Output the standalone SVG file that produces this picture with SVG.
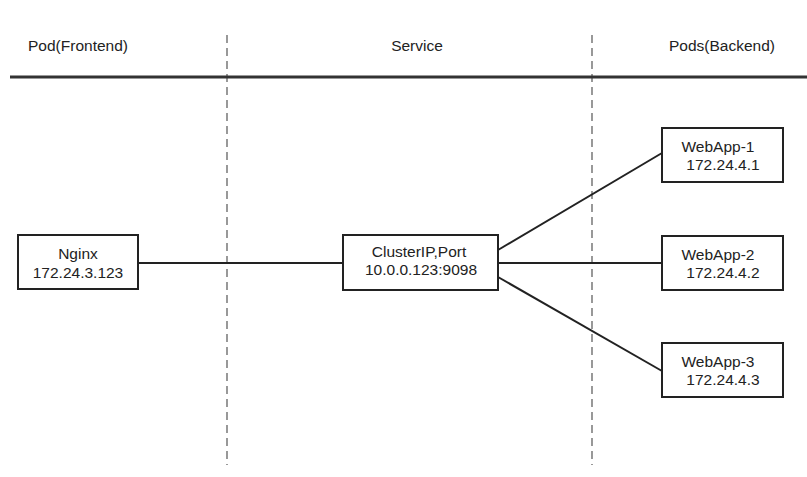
<svg xmlns="http://www.w3.org/2000/svg" width="807" height="477" viewBox="0 0 807 477">
<style>
.bg{fill:#ffffff}
.box{fill:#ffffff;stroke:#222222;stroke-width:2}
.t{font-family:"Liberation Sans",Arial,sans-serif;font-size:15.5px;fill:#222222;text-anchor:middle}
.h{font-family:"Liberation Sans",Arial,sans-serif;font-size:15.5px;fill:#222222;text-anchor:middle}
.dash{stroke:#555555;stroke-width:1.2;stroke-dasharray:8,5;fill:none}
.edge{stroke:#222222;stroke-width:2;fill:none}
</style>
<rect class="bg" x="0" y="0" width="807" height="477"/>
<g id="lanes">
<line class="dash" x1="227" y1="35" x2="227" y2="465"/>
<line class="dash" x1="592" y1="35" x2="592" y2="465"/>
<line x1="10" y1="77" x2="807" y2="77" stroke="#333333" stroke-width="3"/>
<text class="h" x="78" y="51">Pod(Frontend)</text>
<text class="h" x="417" y="51">Service</text>
<text class="h" x="722" y="51">Pods(Backend)</text>
</g>
<g id="connectors">
<line class="edge" x1="138" y1="263" x2="343" y2="263"/>
<line class="edge" x1="498" y1="250" x2="662" y2="153"/>
<line class="edge" x1="498" y1="263" x2="662" y2="263"/>
<line class="edge" x1="498" y1="277" x2="662" y2="371"/>
</g>
<g id="nginx">
<rect class="box" x="18" y="235" width="120" height="54"/>
<text class="t" x="78" y="259">Nginx</text>
<text class="t" x="78" y="278">172.24.3.123</text>
</g>
<g id="service">
<rect class="box" x="343" y="235" width="155" height="55"/>
<text class="t" x="419" y="257">ClusterIP,Port</text>
<text class="t" x="421" y="275">10.0.0.123:9098</text>
</g>
<g id="webapp1">
<rect class="box" x="662" y="128" width="121" height="54"/>
<text class="t" x="718" y="152">WebApp-1</text>
<text class="t" x="723" y="170">172.24.4.1</text>
</g>
<g id="webapp2">
<rect class="box" x="662" y="236" width="121" height="54"/>
<text class="t" x="718" y="260">WebApp-2</text>
<text class="t" x="723" y="278">172.24.4.2</text>
</g>
<g id="webapp3">
<rect class="box" x="662" y="343" width="121" height="54"/>
<text class="t" x="718" y="367">WebApp-3</text>
<text class="t" x="723" y="385">172.24.4.3</text>
</g>
</svg>
